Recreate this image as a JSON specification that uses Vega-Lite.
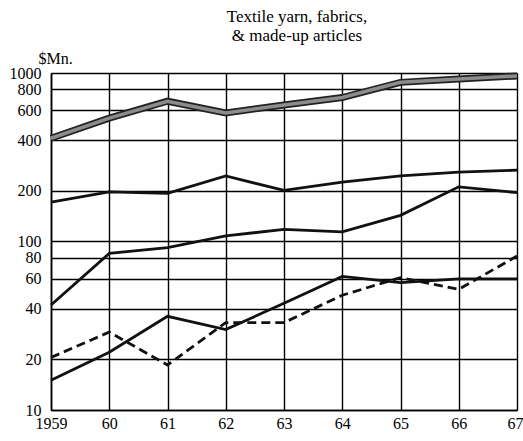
{
  "$schema": "https://vega.github.io/schema/vega-lite/v6.json",
  "width": 466,
  "height": 337,
  "autosize": "none",
  "padding": {"left": 51, "top": 73, "right": 6, "bottom": 31},
  "background": "white",
  "config": {"view": {"stroke": null}, "font": "Liberation Serif"},
  "title": {
    "text": ["Textile yarn, fabrics,", "& made-up articles"],
    "font": "Liberation Serif",
    "fontSize": 17,
    "fontWeight": "normal",
    "color": "black",
    "lineHeight": 19,
    "dx": 13,
    "offset": 5
  },
  "data": {
    "values": [
      {"year": 1959, "series": "total", "value": 410},
      {"year": 1960, "series": "total", "value": 540},
      {"year": 1961, "series": "total", "value": 680},
      {"year": 1962, "series": "total", "value": 580},
      {"year": 1963, "series": "total", "value": 645},
      {"year": 1964, "series": "total", "value": 715},
      {"year": 1965, "series": "total", "value": 880},
      {"year": 1966, "series": "total", "value": 920},
      {"year": 1967, "series": "total", "value": 960},
      {"year": 1959, "series": "a", "value": 171},
      {"year": 1960, "series": "a", "value": 197},
      {"year": 1961, "series": "a", "value": 193},
      {"year": 1962, "series": "a", "value": 245},
      {"year": 1963, "series": "a", "value": 201},
      {"year": 1964, "series": "a", "value": 225},
      {"year": 1965, "series": "a", "value": 245},
      {"year": 1966, "series": "a", "value": 258},
      {"year": 1967, "series": "a", "value": 265},
      {"year": 1959, "series": "b", "value": 42},
      {"year": 1960, "series": "b", "value": 85},
      {"year": 1961, "series": "b", "value": 92},
      {"year": 1962, "series": "b", "value": 108},
      {"year": 1963, "series": "b", "value": 118},
      {"year": 1964, "series": "b", "value": 114},
      {"year": 1965, "series": "b", "value": 143},
      {"year": 1966, "series": "b", "value": 211},
      {"year": 1967, "series": "b", "value": 195},
      {"year": 1959, "series": "c", "value": 15},
      {"year": 1960, "series": "c", "value": 22},
      {"year": 1961, "series": "c", "value": 36},
      {"year": 1962, "series": "c", "value": 30},
      {"year": 1963, "series": "c", "value": 43},
      {"year": 1964, "series": "c", "value": 62},
      {"year": 1965, "series": "c", "value": 57},
      {"year": 1966, "series": "c", "value": 60},
      {"year": 1967, "series": "c", "value": 60},
      {"year": 1959, "series": "d", "value": 20.5},
      {"year": 1960, "series": "d", "value": 29},
      {"year": 1961, "series": "d", "value": 18.5},
      {"year": 1962, "series": "d", "value": 33},
      {"year": 1963, "series": "d", "value": 33},
      {"year": 1964, "series": "d", "value": 48},
      {"year": 1965, "series": "d", "value": 61},
      {"year": 1966, "series": "d", "value": 52},
      {"year": 1967, "series": "d", "value": 82}
    ]
  },
  "encoding": {
    "x": {
      "field": "year",
      "type": "quantitative",
      "scale": {"domain": [1959, 1967], "nice": false, "zero": false},
      "axis": {
        "values": [1959, 1960, 1961, 1962, 1963, 1964, 1965, 1966, 1967],
        "labelExpr": "datum.value == 1959 ? '1959' : substring(toString(datum.value), 2, 4)",
        "title": null,
        "grid": true,
        "gridColor": "black",
        "gridWidth": 1.4,
        "gridOpacity": 1,
        "domainColor": "black",
        "domainWidth": 1.6,
        "ticks": false,
        "labelPadding": 5,
        "labelFont": "Liberation Serif",
        "labelFontSize": 16,
        "labelColor": "black",
        "labelFlush": false,
        "labelAlign": {"condition": {"test": "datum.value == 1967", "value": "right"}, "value": "center"},
        "labelOffset": {"condition": {"test": "datum.value == 1967", "value": 6}, "value": 0}
      }
    },
    "y": {
      "field": "value",
      "type": "quantitative",
      "scale": {"type": "log", "domain": [10, 1000], "nice": false},
      "axis": {
        "values": [10, 20, 40, 60, 80, 100, 200, 400, 600, 800, 1000],
        "format": "d",
        "title": "$Mn.",
        "titleAngle": 0,
        "titleX": -13,
        "titleY": -10,
        "titleAlign": "left",
        "titleBaseline": "alphabetic",
        "titleFont": "Liberation Serif",
        "titleFontSize": 16,
        "titleFontWeight": "normal",
        "titleColor": "black",
        "grid": true,
        "gridColor": "black",
        "gridWidth": 1.4,
        "gridOpacity": 1,
        "domainColor": "black",
        "domainWidth": 1.6,
        "ticks": false,
        "labelPadding": 10,
        "labelFont": "Liberation Serif",
        "labelFontSize": 16,
        "labelColor": "black",
        "labelFlush": false
      }
    }
  },
  "layer": [
    {
      "transform": [{"filter": "datum.series == 'total'"}],
      "mark": {"type": "line", "color": "#222", "strokeWidth": 7, "strokeJoin": "miter"}
    },
    {
      "transform": [{"filter": "datum.series == 'total'"}],
      "mark": {"type": "line", "color": "#8c8c8c", "strokeWidth": 3.5, "strokeJoin": "miter"}
    },
    {
      "transform": [{"filter": "datum.series == 'a' || datum.series == 'b' || datum.series == 'c'"}],
      "mark": {"type": "line", "color": "#111", "strokeWidth": 2.8},
      "encoding": {"detail": {"field": "series"}}
    },
    {
      "transform": [{"filter": "datum.series == 'd'"}],
      "mark": {"type": "line", "color": "#111", "strokeWidth": 2.8, "strokeDash": [9, 5]}
    }
  ]
}
